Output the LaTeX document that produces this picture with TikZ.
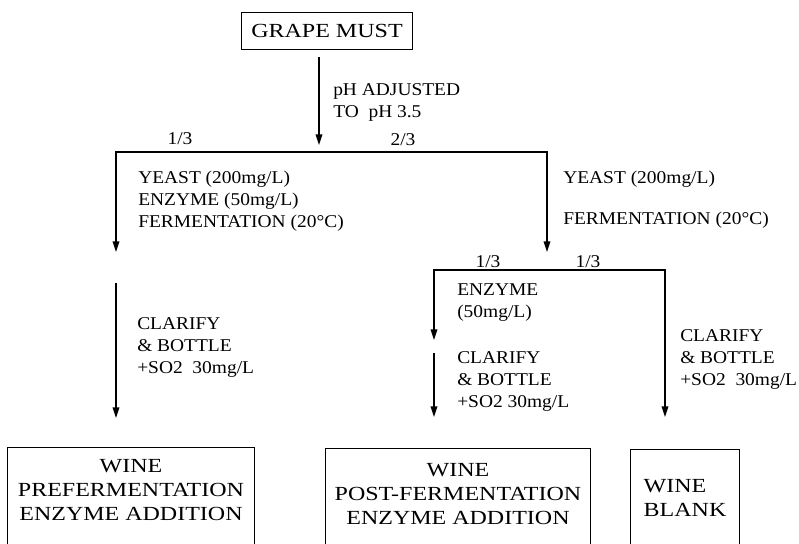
\documentclass[tikz,border=0pt]{standalone}
\usepackage{fontspec}
\setmainfont{Liberation Serif}
\newfontfamily\boxfont{Liberation Serif}[FakeStretch=1.2]
\newfontfamily\notefont{Liberation Serif}[FakeStretch=1.08]
\usetikzlibrary{arrows.meta, positioning}
\newcommand{\lblsize}{\notefont\fontsize{13.5}{16.5}\selectfont}
\newcommand{\boxsize}{\boxfont\fontsize{15}{18}\selectfont}
\tikzset{
	stage/.style={rectangle, draw=black, line width=1pt, align=center, font=\boxsize},
	note/.style ={anchor=west, align=left, inner sep=0pt, font=\lblsize},
	share/.style={inner sep=0pt, font=\lblsize},
	flow/.style ={-{Triangle[length=8pt, width=5pt]}, line width=1pt},
	fork/.style ={{Triangle[length=8pt, width=5pt]}-{Triangle[length=8pt, width=5pt]}, line width=1pt},
}

\begin{document}
\begin{tikzpicture}[x=0.75pt, y=-0.75pt]
	\useasboundingbox (0,0) rectangle (799,543);
	% grape must and first split
	\node[stage, minimum width=128pt, minimum height=28pt] (must) at (327,31) {GRAPE MUST};
	\coordinate (ph0) at (319,57);
	\coordinate (ph1) at (319,145);
	\draw[flow] (ph0) -- (ph1);
	\node[note] (ph) at (333,102) {pH ADJUSTED\\TO\ \ pH 3.5};
	\coordinate (ltip) at (116,252);
	\coordinate (lc) at (116,152);
	\coordinate (rc) at (547,152);
	\coordinate (rtip) at (547,252);
	\draw[fork] (ltip) -- (lc) -- (rc) -- (rtip);
	\node[share] (s1) at (180,139) {1/3};
	\node[share] (s2) at (403,140) {2/3};
	\node[note] (treatA) at (138,201) {YEAST (200mg/L)\\ENZYME (50mg/L)\\FERMENTATION (20°C)};
	\node[note] (treatB) at (563,200) {YEAST (200mg/L)\\[14pt]FERMENTATION (20°C)};
	% left branch
	\coordinate (la0) at (116,283);
	\coordinate (la1) at (116,418);
	\draw[flow] (la0) -- (la1);
	\node[note] (bottA) at (137,347) {CLARIFY\\\& BOTTLE\\+SO2\ \ 30mg/L};
	% second split
	\coordinate (mtip) at (434,340);
	\coordinate (mlc) at (434,270);
	\coordinate (mrc) at (665,270);
	\coordinate (mrtip) at (665,417);
	\draw[fork] (mtip) -- (mlc) -- (mrc) -- (mrtip);
	\node[share] (s3) at (488,262) {1/3};
	\node[share] (s4) at (588,262) {1/3};
	\node[note] (enz) at (457,303) {ENZYME\\(50mg/L)};
	\coordinate (ma0) at (434,353);
	\coordinate (ma1) at (434,417);
	\draw[flow] (ma0) -- (ma1);
	\node[note] (bottB) at (457,381) {CLARIFY\\\& BOTTLE\\+SO2 30mg/L};
	\node[note] (bottC) at (680,359) {CLARIFY\\\& BOTTLE\\+SO2\ \ 30mg/L};
	% wines
	\node[stage, anchor=north, minimum width=185pt, inner ysep=9pt, text depth=60pt] (wpre) at (131,447) {WINE\\PREFERMENTATION\\ENZYME ADDITION};
	\node[stage, anchor=north, minimum width=199pt, inner ysep=11pt, text depth=60pt] (wpost) at (458,448) {WINE\\POST-FERMENTATION\\ENZYME ADDITION};
	\node[stage, anchor=north, minimum width=82pt, inner ysep=22pt, text depth=60pt, align=left] (wblank) at (685,449) {WINE\\BLANK};
\end{tikzpicture}
\end{document}
